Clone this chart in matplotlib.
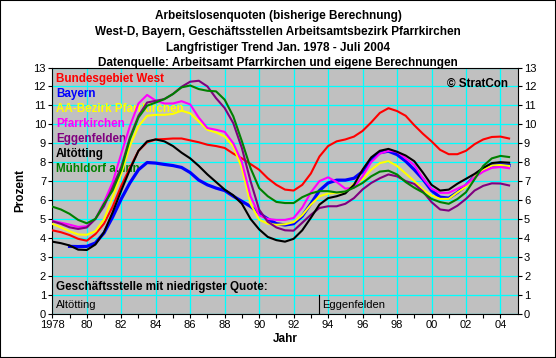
import numpy as np
import matplotlib
matplotlib.use("Agg")
import matplotlib.pyplot as plt
from matplotlib.patches import Rectangle

plt.rcParams['font.family'] = ['Liberation Sans', 'DejaVu Sans']

# ================= DATEN =================
jahre = np.arange(1978, 2004.51, 0.5)   # Halbjahresschritte Jan. 1978 - Juli 2004
nan = np.nan

west = [4.40, 4.30, 4.15, 3.95, 3.85, 4.20, 4.75, 5.65, 6.75, 7.70,
        8.60, 9.05, 9.20, 9.22, 9.25, 9.25, 9.15, 9.05, 8.92, 8.85,
        8.75, 8.45, 8.20, 7.90, 7.60, 7.15, 6.80, 6.55, 6.50, 6.80,
        7.40, 8.30, 8.85, 9.10, 9.20, 9.35, 9.65, 10.10, 10.60, 10.85,
        10.70, 10.45, 9.95, 9.50, 9.10, 8.65, 8.42, 8.42, 8.60, 8.95,
        9.20, 9.33, 9.35, 9.25]

bayern = [nan, nan, 3.55, 3.54, 3.55, 3.73, 4.26, 5.10, 6.06, 6.90,
          7.60, 7.98, 7.95, 7.88, 7.82, 7.72, 7.45, 7.05, 6.80, 6.63,
          6.50, 6.20, 5.93, 5.66, 5.30, 5.00, 4.75, 4.68, 4.75, 5.15,
          5.80, 6.50, 6.90, 7.05, 7.05, 7.15, 7.50, 8.15, 8.50, 8.58,
          8.40, 8.05, 7.60, 7.10, 6.50, 6.15, 6.10, 6.40, 6.77, 7.25,
          7.60, 7.82, 7.87, 7.83]

aa_bezirk = [4.74, 4.55, 4.35, 4.18, 4.16, 4.35, 4.97, 6.15, 7.38, 8.86,
             9.90, 10.45, 10.50, 10.50, 10.55, 10.72, 10.58, 10.15, 9.71, 9.57,
             9.36, 8.83, 7.69, 5.80, 4.96, 4.75, 4.69, 4.72, 4.83, 5.20,
             5.75, 6.20, 6.34, 6.38, 6.42, 6.85, 7.08, 7.60, 7.95, 8.05,
             7.80, 7.40, 7.00, 6.55, 6.24, 6.06, 6.06, 6.40, 6.70, 7.25,
             7.60, 7.82, 7.85, 7.80]

pfarrkirchen = [4.90, 4.80, 4.70, 4.58, 4.61, 5.00, 5.88, 6.94, 8.44, 9.90,
                11.10, 11.55, 11.25, 11.10, 11.10, 11.22, 11.05, 10.35, 9.80, 9.71,
                9.60, 9.00, 8.00, 6.20, 5.20, 5.00, 4.95, 4.95, 5.05, 5.60,
                6.40, 7.00, 7.20, 6.95, 6.60, 6.65, 7.26, 8.00, 8.45, 8.60,
                8.55, 8.20, 7.85, 7.15, 6.60, 6.38, 6.38, 6.60, 6.80, 7.20,
                7.50, 7.70, 7.74, 7.68]

eggenfelden = [4.88, 4.74, 4.56, 4.47, 4.55, 5.00, 5.67, 6.68, 7.75, 9.30,
               10.45, 11.15, 11.24, 11.33, 11.60, 11.98, 12.25, 12.30, 12.00, 11.38,
               10.86, 10.06, 8.74, 7.00, 5.49, 4.85, 4.55, 4.40, 4.38, 4.80,
               5.22, 5.58, 5.67, 5.67, 5.80, 6.10, 6.56, 6.90, 7.15, 7.35,
               7.25, 7.00, 6.85, 6.45, 5.89, 5.50, 5.44, 5.70, 6.06, 6.50,
               6.75, 6.88, 6.87, 6.77]

altoetting = [3.80, 3.72, 3.60, 3.38, 3.36, 3.65, 4.30, 5.35, 6.50, 7.60,
              8.60, 9.10, 9.20, 9.10, 8.85, 8.50, 8.20, 7.80, 7.35, 6.95,
              6.55, 6.25, 5.80, 5.00, 4.45, 4.05, 3.88, 3.80, 3.95, 4.40,
              5.06, 5.76, 6.10, 6.20, 6.35, 6.80, 7.60, 8.25, 8.60, 8.70,
              8.55, 8.35, 8.05, 7.45, 6.80, 6.50, 6.55, 6.86, 7.12, 7.38,
              7.70, 7.95, 8.00, 7.97]

muehldorf = [5.65, 5.50, 5.27, 4.95, 4.77, 5.00, 5.80, 6.50, 7.60, 9.21,
             10.36, 10.98, 11.15, 11.33, 11.60, 11.95, 12.05, 11.86, 11.77, 11.74,
             11.30, 10.42, 9.10, 7.69, 6.63, 6.20, 5.90, 5.84, 5.84, 6.15,
             6.35, 6.47, 6.47, 6.40, 6.45, 6.65, 6.90, 7.25, 7.50, 7.55,
             7.35, 6.95, 6.65, 6.40, 6.06, 5.89, 5.80, 6.05, 6.41, 7.10,
             7.80, 8.20, 8.33, 8.27]

namen = ["Bundesgebiet West", "Bayern", "AA-Bezirk Pfarrkirchen", "Pfarrkirchen",
         "Eggenfelden", "Altötting", "Mühldorf a. Inn"]
serien = [west, bayern, aa_bezirk, pfarrkirchen, eggenfelden, altoetting, muehldorf]
farben = ["#ff0000", "#0000ff", "#ffff00", "#ff00ff", "#800080", "#000000", "#008000"]

# Geschaeftsstelle mit niedrigster Quote
wechsel_jahr = 1993.5
niedrigste = ["Altötting", "Eggenfelden"]

x_ticks = list(range(1978, 2005, 2))
x_labels = ["1978"] + ["%02d" % (j % 100) for j in x_ticks[1:]]

# ================= FIGUR =================
fig = plt.figure(figsize=(5.56, 3.58), dpi=100)
fig.patches.append(Rectangle((0, 0), 1, 1, transform=fig.transFigure,
                             fill=False, edgecolor="black", linewidth=1.5))

titel = ["Arbeitslosenquoten (bisherige Berechnung)",
         "West-D, Bayern, Geschäftsstellen Arbeitsamtsbezirk Pfarrkirchen",
         "Langfristiger Trend Jan. 1978 - Juli 2004",
         "Datenquelle: Arbeitsamt Pfarrkirchen und eigene Berechnungen"]
for i, t in enumerate(titel):
    fig.text(0.5, 1 - (19 + 15.8 * i) / 358, t, ha="center", va="baseline",
             fontsize=8.5, fontweight="bold")

ax = fig.add_axes([52.3 / 556, 44.4 / 358, 465.4 / 556, 246.1 / 358])
ax.set_facecolor("#c0c0c0")

for s, f in zip(serien, farben):
    lw = 2.3 if f == "#0000ff" else 1.5
    ax.plot(jahre, s, color=f, linewidth=lw, zorder=3)

ax.set_xlim(1978, 2005)
ax.set_ylim(0, 13)
ax.set_xticks(x_ticks)
ax.set_xticklabels(x_labels)
ax.set_xticks(range(1979, 2005, 2), minor=True)
ax.set_yticks(range(0, 14))
ax.tick_params(axis="both", which="both", direction="out", length=3, width=0.8,
               labelsize=8, pad=1.5)
ax.tick_params(axis="y", right=True, labelright=True)
ax.grid(True, which="major", color="#00ffff", linewidth=0.9)
ax.set_axisbelow(True)
for sp in ax.spines.values():
    sp.set_linewidth(0.8)

ax.set_xlabel("Jahr", fontsize=8.5, fontweight="bold", labelpad=2)
ax.set_ylabel("Prozent", fontsize=8.5, fontweight="bold", labelpad=5)

# Legende als farbige Texte
for i, (n, f) in enumerate(zip(namen, farben)):
    ax.text(0.008, (12.39 - 0.79 * i) / 13, n, transform=ax.transAxes, color=f,
            fontsize=8.4, fontweight="bold", ha="left", va="center", zorder=2)

ax.text(0.98, 12.16 / 13, "© StratCon", transform=ax.transAxes, fontsize=8.4,
        fontweight="bold", ha="right", va="center", zorder=2)

ax.text(0.008, 1.42 / 13, "Geschäftsstelle mit niedrigster Quote:", transform=ax.transAxes,
        fontsize=8.4, fontweight="bold", ha="left", va="center")
ax.plot([wechsel_jahr, wechsel_jahr], [0, 1], color="black", linewidth=0.8)
ax.text(1978.2, 0.45, niedrigste[0], fontsize=8, ha="left", va="center")
ax.text(wechsel_jahr + 0.15, 0.45, niedrigste[1], fontsize=8, ha="left", va="center")

fig.savefig("out.png", dpi=100)
